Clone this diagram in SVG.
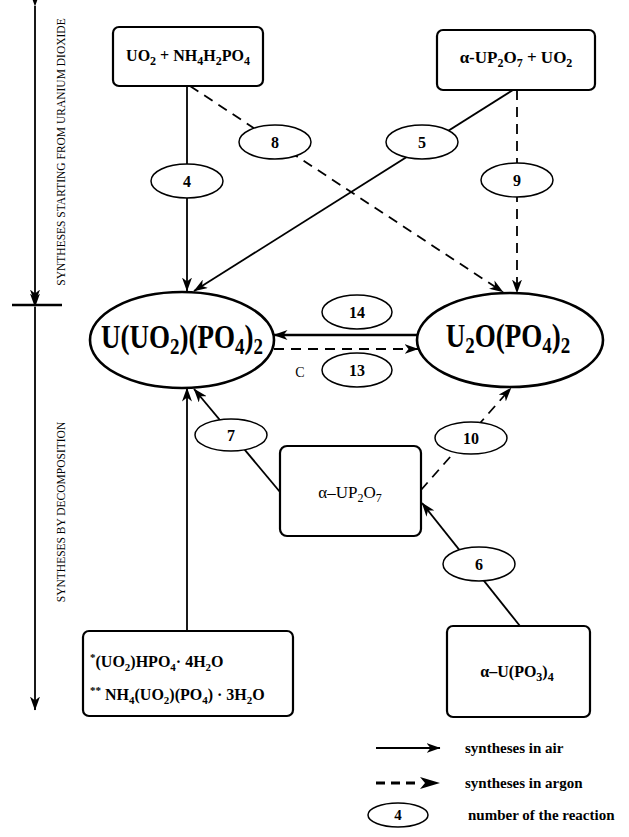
<svg xmlns="http://www.w3.org/2000/svg" width="629" height="837" viewBox="0 0 629 837">
<style>
.box{fill:#fff;stroke:#000;stroke-width:2.2}
.el{fill:#fff;stroke:#000;stroke-width:1.5}
.big{fill:#fff;stroke:#000;stroke-width:2.6}
.t{font-family:"Liberation Serif","Times New Roman",serif;font-weight:bold;fill:#000}
.r{font-family:"Liberation Serif","Times New Roman",serif;fill:#000}
.ln{stroke:#000;stroke-width:1.8;fill:none}
.ds{stroke-dasharray:10,7}
</style>
<defs>
<marker id="ah" viewBox="0 0 14 10" refX="13.5" refY="5" markerWidth="14" markerHeight="10" markerUnits="userSpaceOnUse" orient="auto">
<path d="M0,0 L14,5 L0,10 L4,5 Z"/>
</marker>
</defs>

<g id="side-annotation">
<line class="ln" x1="35" y1="6" x2="35" y2="303" marker-start="url(#ah)" marker-end="url(#ah)"/>
<line x1="12" y1="305" x2="62" y2="305" stroke="#000" stroke-width="2.5"/>
<line class="ln" x1="35" y1="307" x2="35" y2="710" marker-start="url(#ah)" marker-end="url(#ah)"/>
<text class="r" font-size="11.5" text-anchor="middle" transform="translate(65,152) rotate(-90)">SYNTHESES  STARTING FROM URANIUM DIOXIDE</text>
<text class="r" font-size="11.5" text-anchor="middle" transform="translate(65,512) rotate(-90)">SYNTHESES  BY  DECOMPOSITION</text>
</g>

<g id="connectors">
<line class="ln" x1="187" y1="86" x2="187" y2="291" marker-end="url(#ah)"/>
<line class="ln ds" x1="190" y1="86" x2="503" y2="292" marker-end="url(#ah)"/>
<line class="ln" x1="513" y1="90" x2="194" y2="291" marker-end="url(#ah)"/>
<line class="ln ds" x1="517" y1="90" x2="517" y2="293" marker-end="url(#ah)"/>
<line x1="417" y1="335" x2="274" y2="335" stroke="#000" stroke-width="2.6" marker-end="url(#ah)"/>
<line class="ln ds" x1="274" y1="349" x2="418" y2="349" stroke-width="2.2" marker-end="url(#ah)"/>
<line class="ln" x1="187" y1="631" x2="187" y2="388" marker-end="url(#ah)"/>
<line class="ln" x1="280" y1="492" x2="194" y2="389" marker-end="url(#ah)"/>
<line class="ln ds" x1="421" y1="490" x2="511" y2="388" marker-end="url(#ah)"/>
<line class="ln" x1="520" y1="626" x2="422" y2="503" marker-end="url(#ah)"/>
</g>

<g id="reaction-labels">
<g id="r4"><ellipse class="el" cx="187" cy="181" rx="36" ry="17"/><text class="t" x="187" y="187" font-size="16" text-anchor="middle">4</text></g>
<g id="r8"><ellipse class="el" cx="275" cy="142" rx="36" ry="17"/><text class="t" x="275" y="148" font-size="16" text-anchor="middle">8</text></g>
<g id="r5"><ellipse class="el" cx="422" cy="142" rx="36" ry="17"/><text class="t" x="422" y="148" font-size="16" text-anchor="middle">5</text></g>
<g id="r9"><ellipse class="el" cx="517" cy="180" rx="36" ry="17"/><text class="t" x="517" y="186" font-size="16" text-anchor="middle">9</text></g>
<g id="r14"><ellipse class="el" cx="357" cy="312" rx="35" ry="17"/><text class="t" x="357" y="318" font-size="16" text-anchor="middle">14</text></g>
<g id="r13"><ellipse class="el" cx="357" cy="370" rx="35" ry="17"/><text class="t" x="357" y="376" font-size="16" text-anchor="middle">13</text></g>
<text class="r" x="300" y="377" font-size="14" text-anchor="middle">C</text>
<g id="r7"><ellipse class="el" cx="231" cy="435" rx="36" ry="16"/><text class="t" x="231" y="441" font-size="16" text-anchor="middle">7</text></g>
<g id="r10"><ellipse class="el" cx="471" cy="438" rx="36" ry="16"/><text class="t" x="471" y="444" font-size="16" text-anchor="middle">10</text></g>
<g id="r6"><ellipse class="el" cx="479" cy="564" rx="36" ry="17"/><text class="t" x="479" y="570" font-size="16" text-anchor="middle">6</text></g>
</g>

<g id="box-uo2-nh4h2po4">
<rect class="box" x="113" y="27" width="150" height="59" rx="6"/>
<text class="t" x="188" y="61" font-size="16" text-anchor="middle">UO<tspan font-size="12" dy="4">2</tspan><tspan dy="-4"> + NH</tspan><tspan font-size="12" dy="4">4</tspan><tspan dy="-4">H</tspan><tspan font-size="12" dy="4">2</tspan><tspan dy="-4">PO</tspan><tspan font-size="12" dy="4">4</tspan></text>
</g>

<g id="box-aup2o7-uo2">
<rect class="box" x="437" y="30" width="158" height="60" rx="6"/>
<text class="t" x="516" y="63" font-size="17" text-anchor="middle">α-UP<tspan font-size="12" dy="4">2</tspan><tspan dy="-4">O</tspan><tspan font-size="12" dy="4">7</tspan><tspan dy="-4"> + UO</tspan><tspan font-size="12" dy="4">2</tspan></text>
</g>

<g id="node-u-uo2-po4-2">
<ellipse class="big" cx="182" cy="340" rx="92" ry="48"/>
<text class="t" transform="translate(182,348) scale(1,1.25)" font-size="27" text-anchor="middle">U(UO<tspan font-size="19" dy="5">2</tspan><tspan dy="-5">)(PO</tspan><tspan font-size="19" dy="5">4</tspan><tspan dy="-5">)</tspan><tspan font-size="19" dy="5">2</tspan></text>
</g>

<g id="node-u2o-po4-2">
<ellipse class="big" cx="510" cy="340" rx="93" ry="47"/>
<text class="t" transform="translate(508,347) scale(1,1.25)" font-size="27" text-anchor="middle">U<tspan font-size="19" dy="5">2</tspan><tspan dy="-5">O(PO</tspan><tspan font-size="19" dy="5">4</tspan><tspan dy="-5">)</tspan><tspan font-size="19" dy="5">2</tspan></text>
</g>

<g id="box-aup2o7">
<rect class="box" x="280" y="446" width="141" height="90" rx="7"/>
<text class="r" x="350" y="498" font-size="17" text-anchor="middle">α–UP<tspan font-size="12" dy="4">2</tspan><tspan dy="-4">O</tspan><tspan font-size="12" dy="4">7</tspan></text>
</g>

<g id="box-hydrates">
<rect class="box" x="83" y="631" width="210" height="85" rx="6"/>
<text class="t" x="90" y="667" font-size="16"><tspan font-size="11" dy="-6">*</tspan><tspan dy="6">(UO</tspan><tspan font-size="11" dy="4">2</tspan><tspan dy="-4">)HPO</tspan><tspan font-size="11" dy="4">4</tspan><tspan dy="-4">· 4H</tspan><tspan font-size="11" dy="4">2</tspan><tspan dy="-4">O</tspan></text>
<text class="t" x="90" y="700" font-size="16"><tspan font-size="11" dy="-6">**</tspan><tspan dy="6"> NH</tspan><tspan font-size="11" dy="4">4</tspan><tspan dy="-4">(UO</tspan><tspan font-size="11" dy="4">2</tspan><tspan dy="-4">)(PO</tspan><tspan font-size="11" dy="4">4</tspan><tspan dy="-4">) · 3H</tspan><tspan font-size="11" dy="4">2</tspan><tspan dy="-4">O</tspan></text>
</g>

<g id="box-au-po3-4">
<rect class="box" x="447" y="626" width="143" height="91" rx="6"/>
<text class="t" x="517" y="677" font-size="16" text-anchor="middle">α–U(PO<tspan font-size="12" dy="4">3</tspan><tspan dy="-4">)</tspan><tspan font-size="12" dy="4">4</tspan></text>
</g>

<g id="legend">
<line class="ln" x1="376" y1="748" x2="440" y2="748" stroke-width="1.5" marker-end="url(#ah)"/>
<text class="t" x="465" y="753" font-size="15">syntheses in air</text>
<line x1="376" y1="783" x2="416" y2="783" stroke="#000" stroke-width="3" stroke-dasharray="9,6"/>
<path d="M420,777 L440,783 L420,789 L425,783 Z"/>
<text class="t" x="465" y="788" font-size="15">syntheses in argon</text>
<ellipse class="el" cx="398" cy="815" rx="30" ry="12"/>
<text class="t" x="398" y="820" font-size="15" text-anchor="middle">4</text>
<text class="t" x="468" y="820" font-size="15">number of  the reaction</text>
</g>
</svg>
